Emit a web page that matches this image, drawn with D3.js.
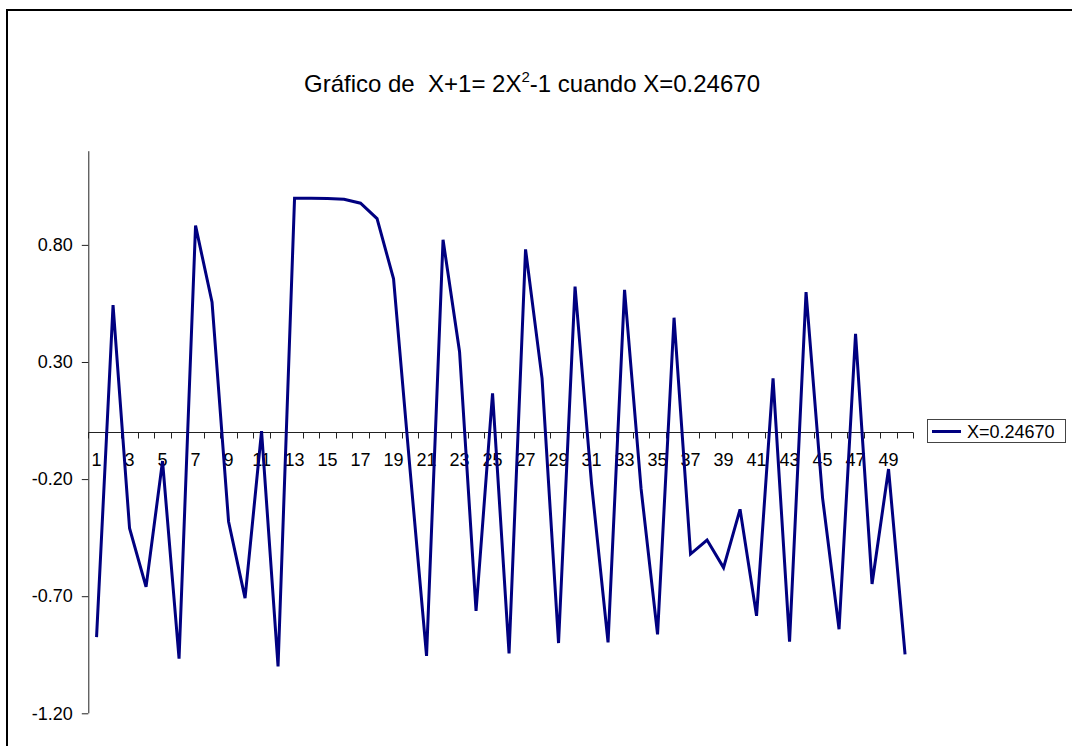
<!DOCTYPE html>
<html>
<head>
<meta charset="utf-8">
<script src="https://cdn.jsdelivr.net/npm/d3@7"></script>
<style>
  body { margin: 0; background: #fff; }
  svg { display: block; font-family: "Liberation Sans", Arial, sans-serif; }
  text { white-space: pre; }
</style>
</head>
<body>
<svg id="chart" width="1072" height="746"></svg>
<script>
// serie X=0.24670, valores (50 puntos)
var categories = d3.range(1, 51).map(String);
var values = [
  -0.875, 0.543, -0.410, -0.660, -0.123, -0.967, 0.882, 0.555, -0.381, -0.708,
   0.005, -1.000, 0.999, 0.999, 0.998, 0.995, 0.978, 0.912, 0.655, -0.160,
  -0.955, 0.822, 0.344, -0.763, 0.166, -0.944, 0.781, 0.230, -0.900, 0.622,
  -0.220, -0.897, 0.608, -0.240, -0.863, 0.489, -0.520, -0.460, -0.578, -0.329,
  -0.784, 0.230, -0.894, 0.598, -0.280, -0.841, 0.420, -0.648, -0.157, -0.948
];
var yTicks = [-1.2, -0.7, -0.2, 0.3, 0.8];
var xLabels = categories.filter(function(d, i) { return i % 2 === 0; });
var seriesName = "X=0.24670";

var svg = d3.select("#chart");

// marco exterior
svg.append("rect")
  .attr("x", 7).attr("y", 10)
  .attr("width", 1200).attr("height", 900)
  .attr("fill", "none")
  .attr("stroke", "#000")
  .attr("stroke-width", 2);

// titulo
var title = svg.append("text")
  .attr("x", 532).attr("y", 92)
  .attr("text-anchor", "middle")
  .attr("font-size", 24)
  .attr("fill", "#000");
title.append("tspan").text("Gráfico de  X+1= 2X");
title.append("tspan").attr("font-size", 15).attr("dy", -10).text("2");
title.append("tspan").attr("dy", 10).text("-1 cuando X=0.24670");

var x = d3.scaleBand().domain(categories).range([88.3, 913.3]);
var y = d3.scaleLinear().domain([-1.2, 1.2]).range([713.3, 151.2]);

// eje Y
var yAxis = svg.append("g")
  .attr("transform", "translate(88.3,0)")
  .call(d3.axisLeft(y)
    .tickValues(yTicks)
    .tickSize(6.5)
    .tickPadding(9)
    .tickFormat(function(d) { return d.toFixed(2); }));
yAxis.select(".domain").attr("stroke", "#222").attr("d", "M0.5," + y(1.2) + "V" + y(-1.2));
yAxis.selectAll(".tick line").attr("stroke", "#222");
yAxis.selectAll(".tick text")
  .attr("font-size", 18)
  .attr("font-family", "Liberation Sans, Arial, sans-serif")
  .attr("fill", "#000");

// eje X en y=0
var y0 = Math.round(y(0)) + 0.5;
var xAxis = svg.append("g")
  .attr("transform", "translate(0," + y0 + ")")
  .call(d3.axisBottom(x)
    .tickValues(xLabels)
    .tickSize(0)
    .tickPadding(21));
xAxis.select(".domain").remove();
xAxis.selectAll(".tick text")
  .attr("font-size", 18)
  .attr("font-family", "Liberation Sans, Arial, sans-serif")
  .attr("fill", "#000");

svg.append("line")
  .attr("x1", x.range()[0]).attr("x2", x.range()[1])
  .attr("y1", y0).attr("y2", y0)
  .attr("stroke", "#222");

var bounds = categories.map(function(c) { return x(c); }).concat([x.range()[1]]);
svg.append("g").selectAll("line")
  .data(bounds)
  .enter().append("line")
    .attr("x1", function(d) { return Math.round(d) + 0.5; })
    .attr("x2", function(d) { return Math.round(d) + 0.5; })
    .attr("y1", y0)
    .attr("y2", y0 + 6)
    .attr("stroke", "#222");

// serie
var line = d3.line()
  .x(function(d, i) { return x(categories[i]) + x.bandwidth() / 2; })
  .y(function(d) { return y(d); });

svg.append("path")
  .datum(values)
  .attr("d", line)
  .attr("fill", "none")
  .attr("stroke", "#000080")
  .attr("stroke-width", 3)
  .attr("stroke-linejoin", "miter");

// leyenda
var legend = svg.append("g").attr("transform", "translate(927,419)");
legend.append("rect")
  .attr("x", 0.5).attr("y", 0.5)
  .attr("width", 138).attr("height", 23)
  .attr("fill", "#fff")
  .attr("stroke", "#444");
legend.append("line")
  .attr("x1", 5).attr("x2", 34)
  .attr("y1", 12.5).attr("y2", 12.5)
  .attr("stroke", "#000080")
  .attr("stroke-width", 3);
legend.append("text")
  .attr("x", 40).attr("y", 19)
  .attr("font-size", 18)
  .attr("fill", "#000")
  .text(seriesName);
</script>
</body>
</html>
